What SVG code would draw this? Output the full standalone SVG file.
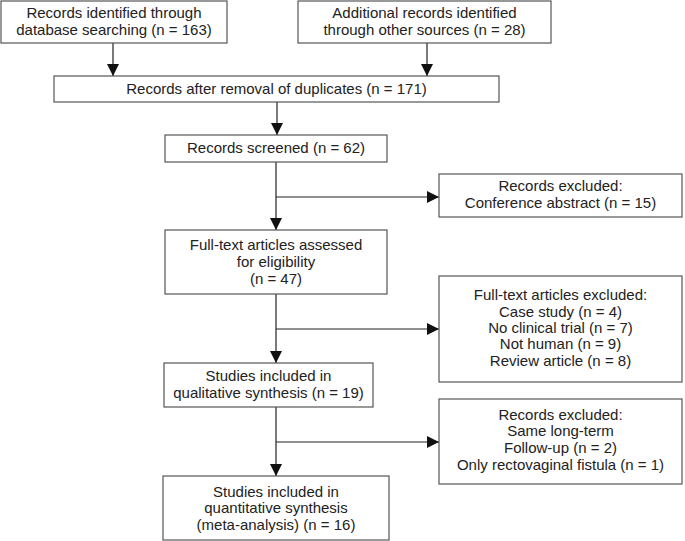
<svg xmlns="http://www.w3.org/2000/svg" width="685" height="541" viewBox="0 0 685 541">
<defs>
<marker id="ah" markerWidth="12" markerHeight="12" viewBox="0 0 12 12" refX="12" refY="6" orient="auto" markerUnits="userSpaceOnUse">
<path d="M0,0 L12,6 L0,12 Z" fill="#111"/>
</marker>
</defs>
<style>
.b{fill:#fff;stroke:#555;stroke-width:1.2}
text{font-family:"Liberation Sans",Arial,sans-serif;font-size:15px;fill:#222;text-anchor:middle}
.c{stroke:#222;stroke-width:1.2;fill:none}
.a{marker-end:url(#ah)}
</style>
<rect width="685" height="541" fill="#fff"/>
<g id="connectors">
<line class="c a" x1="113" y1="43" x2="113" y2="76"/>
<line class="c a" x1="427" y1="43" x2="427" y2="76"/>
<line class="c a" x1="277" y1="102" x2="277" y2="135"/>
<line class="c a" x1="276" y1="162" x2="276" y2="230"/>
<line class="c a" x1="276" y1="197" x2="439" y2="197"/>
<line class="c a" x1="276" y1="294" x2="276" y2="363"/>
<line class="c a" x1="276" y1="329" x2="439" y2="329"/>
<line class="c a" x1="276" y1="407" x2="276" y2="476"/>
<line class="c a" x1="276" y1="442" x2="439" y2="442"/>
</g>
<g id="n1">
<rect class="b" x="1" y="1" width="226" height="42"/>
<text x="114" y="18">Records identified through</text>
<text x="114" y="35">database searching (n = 163)</text>
</g>
<g id="n2">
<rect class="b" x="298" y="1" width="253" height="42"/>
<text x="424.5" y="18">Additional records identified</text>
<text x="424.5" y="35">through other sources (n = 28)</text>
</g>
<g id="n3">
<rect class="b" x="54" y="76" width="445" height="26"/>
<text x="276.5" y="94">Records after removal of duplicates (n = 171)</text>
</g>
<g id="n4">
<rect class="b" x="165" y="135" width="222" height="27"/>
<text x="276" y="153">Records screened (n = 62)</text>
</g>
<g id="n5">
<rect class="b" x="439" y="174" width="243" height="43"/>
<text x="560.5" y="191">Records excluded:</text>
<text x="560.5" y="208">Conference abstract (n = 15)</text>
</g>
<g id="n6">
<rect class="b" x="165" y="230" width="222" height="64"/>
<text x="276" y="250">Full-text articles assessed</text>
<text x="276" y="267">for eligibility</text>
<text x="276" y="284">(n = 47)</text>
</g>
<g id="n7">
<rect class="b" x="439" y="276" width="243" height="106"/>
<text x="560.5" y="300">Full-text articles excluded:</text>
<text x="560.5" y="317">Case study (n = 4)</text>
<text x="560.5" y="333">No clinical trial (n = 7)</text>
<text x="560.5" y="349">Not human (n = 9)</text>
<text x="560.5" y="366">Review article (n = 8)</text>
</g>
<g id="n8">
<rect class="b" x="164" y="363" width="209" height="44"/>
<text x="268.5" y="381">Studies included in</text>
<text x="268.5" y="398">qualitative synthesis (n = 19)</text>
</g>
<g id="n9">
<rect class="b" x="439" y="399" width="243" height="85"/>
<text x="560.5" y="420">Records excluded:</text>
<text x="560.5" y="436">Same long-term</text>
<text x="560.5" y="453">Follow-up (n = 2)</text>
<text x="560.5" y="470">Only rectovaginal fistula (n = 1)</text>
</g>
<g id="n10">
<rect class="b" x="163" y="476" width="226" height="64"/>
<text x="276" y="497">Studies included in</text>
<text x="276" y="513">quantitative synthesis</text>
<text x="276" y="530">(meta-analysis) (n = 16)</text>
</g>
</svg>
